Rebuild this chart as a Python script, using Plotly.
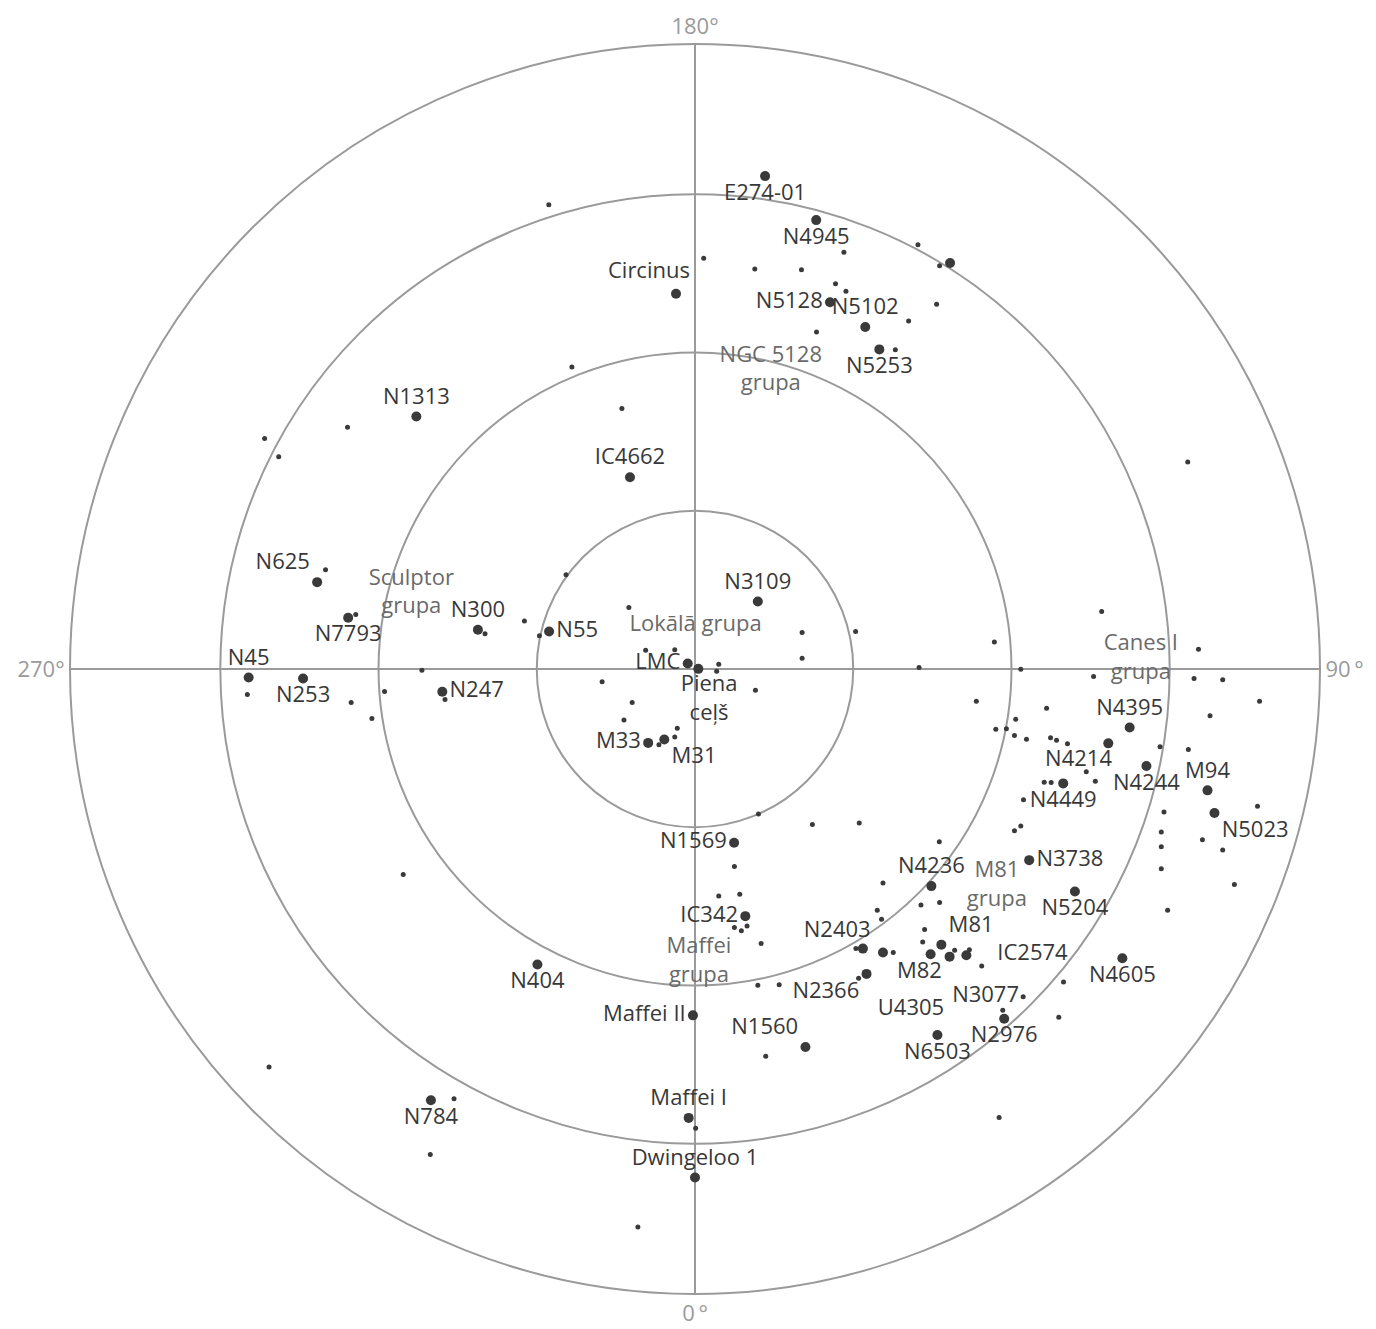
import numpy as np
import plotly.graph_objects as go

# ---------------- data (planar coordinates in Mpc, Milky Way at origin) ----------------
# named galaxies (large markers)
named = ["E274-01", "N4945", "Circinus", "N5128", "N5102", "N5253", "N1313", "IC4662",
         "N625", "N7793", "N300", "N55", "N45", "N253", "N247", "N3109", "LMC",
         "Piena<br>ceļš", "M33", "M31", "N1569", "IC342", "N404", "Maffei II", "N1560",
         "Maffei I", "Dwingeloo 1", "N784", "N2403", "N2366", "N4236", "M81", "M82",
         "IC2574", "N2976", "N6503", "N5204", "N4605", "N3738", "N4449", "N4214",
         "N4395", "N4244", "M94", "N5023"]
named_x = [0.443, 0.766, -0.120, 0.853, 1.076, 1.165, -1.761, -0.411,
           -2.388, -2.192, -1.372, -0.922, -2.821, -2.477, -1.597, 0.397, -0.046,
           0.021, -0.296, -0.194, 0.247, 0.318, -0.996, -0.013, 0.698,
           -0.040, 0.000, -1.669, 1.061, 1.084, 1.494, 1.557, 1.489,
           1.715, 1.954, 1.532, 2.401, 2.701, 2.112, 2.327, 2.612,
           2.747, 2.853, 3.239, 3.283]
named_y = [3.115, 2.837, 2.372, 2.318, 2.161, 2.020, 1.596, 1.212,
           0.549, 0.324, 0.248, 0.237, -0.054, -0.060, -0.144, 0.427, 0.035,
           0.001, -0.467, -0.446, -1.098, -1.562, -1.868, -2.189, -2.389,
           -2.837, -3.214, -2.725, -1.767, -1.927, -1.372, -1.742, -1.803,
           -1.809, -2.210, -2.313, -1.406, -1.828, -1.208, -0.723, -0.470,
           -0.370, -0.613, -0.767, -0.910]

# other large galaxies without a label
big_x = [1.612, 1.188, 1.609]
big_y = [2.566, -1.792, -1.818]

# named dwarf galaxy (small marker)
dwarf_named = ["N3077"]
dwarf_named_x = [2.074]
dwarf_named_y = [-2.071]

# unnamed dwarf galaxies (small markers)
dwarf_x = [-2.196, -2.720, -2.631, -0.924, 0.941, 0.055, 0.378, 0.673, 0.888, 0.954,
           1.350, 0.768, 1.266, -0.778, -0.462, 1.409, 1.546, 1.527, -2.335, -2.144,
           -2.829, -2.173, -2.042, -1.962, -1.726, -1.580, -1.844, -0.815, -1.327, -1.078,
           -0.983, -0.418, 0.677, 1.015, 0.677, -0.312, -0.128, 0.150, 0.137, -0.587,
           0.382, -0.397, -0.449, -0.112, -0.128, -0.228, 0.401, 0.742, 1.038, 0.249,
           1.188, 1.416, 3.114, 2.570, 1.892, 3.182, 2.059, 2.519, 3.154, 3.335,
           1.778, 3.568, 2.222, 3.255, 2.027, 1.901, 1.968, 2.019, 2.095, 2.247,
           2.285, 2.354, 2.939, 3.118, 2.473, 2.530, 2.207, 2.251, 2.076, 3.555,
           2.964, 2.947, 3.207, 3.335, 2.947, 2.947, 3.409, 2.059, 2.019, 1.544,
           2.987, 1.428, 1.546, 1.152, 1.179, 1.451, 1.439, 1.017, 1.253, 1.641,
           1.734, 1.812, 1.034, 1.945, 2.299, 2.329, 1.922, 0.150, 0.283, 0.249,
           0.293, 0.329, 0.418, 0.397, 0.532, 0.447, 0.004, -0.361, -2.692, -1.523,
           -1.673]
dwarf_y = [1.528, 1.457, 1.341, 2.934, 2.634, 2.596, 2.528, 2.524, 2.435, 2.387,
           2.199, 2.130, 2.018, 1.908, 1.647, 2.682, 2.549, 2.305, 0.628, 0.345,
           -0.161, -0.212, -0.313, -0.142, -0.008, -0.193, -1.299, 0.596, 0.223, 0.303,
           0.210, 0.389, 0.231, 0.237, 0.068, 0.119, 0.122, 0.030, -0.014, -0.081,
           -0.134, -0.212, -0.322, -0.375, -0.429, -0.478, -0.916, -0.982, -0.973, -1.248,
           -1.353, 0.009, 1.309, 0.364, 0.170, 0.125, -0.001, -0.047, -0.060, -0.068,
           -0.204, -0.204, -0.248, -0.296, -0.318, -0.381, -0.377, -0.421, -0.444, -0.434,
           -0.451, -0.472, -0.491, -0.508, -0.649, -0.710, -0.716, -0.718, -0.826, -0.868,
           -0.904, -1.030, -1.079, -1.144, -1.123, -1.263, -1.362, -0.992, -1.022, -1.092,
           -1.524, -1.492, -1.476, -1.524, -1.581, -1.647, -1.725, -1.767, -1.792, -1.777,
           -1.775, -1.877, -1.954, -2.157, -2.201, -1.978, -2.834, -1.435, -1.423, -1.634,
           -1.655, -1.625, -1.735, -1.999, -1.995, -2.448, -2.902, -3.527, -2.516, -2.716,
           -3.068]

# group names and their centres
groups = ["Lokālā grupa", "NGC 5128<br>grupa", "Sculptor<br>grupa", "Canes I<br>grupa",
          "M81<br>grupa", "Maffei<br>grupa"]
group_x = [0.004, 0.479, -1.793, 2.818, 1.908, 0.025]
group_y = [0.273, 1.887, 0.478, 0.065, -1.372, -1.853]

# galaxy names set apart from their markers (crowded areas)
free_labels = ["U4305", "Circinus", "Piena<br>ceļš", "N2403", "IC2574", "N4214", "M82"]
free_x = [1.365, -0.291, 0.089, 0.899, 2.133, 2.424, 1.418]
free_y = [-2.149, 2.509, -0.197, -1.661, -1.807, -0.579, -1.915]

circle_ticks = [1, 2, 3]
angle_ticks = [0, 90, 180, 270]
angle_text = ["0\u2009°", "90\u2009°", "180°", "270°"]

# ---------------- label placement next to the markers ----------------
label_pos = {
    "E274-01": "bottom center", "N4945": "bottom center",
    "N5128": "middle left", "N5102": "top center", "N5253": "bottom center",
    "N1313": "top center", "IC4662": "top center", "N625": "top left",
    "N7793": "bottom center", "N300": "top center", "N55": "middle right",
    "N45": "top center", "N253": "bottom center", "N247": "middle right",
    "N3109": "top center", "LMC": "middle left",
    "M33": "middle left", "M31": "bottom right", "N1569": "middle left",
    "IC342": "middle left", "N404": "bottom center", "Maffei II": "middle left",
    "N1560": "top left", "Maffei I": "top center", "Dwingeloo 1": "top center",
    "N784": "bottom center", "N2366": "bottom left",
    "N4236": "top center", "M81": "top right",
    "N2976": "bottom center", "N6503": "bottom center",
    "N5204": "bottom center", "N4605": "bottom center", "N3738": "middle right",
    "N4449": "bottom center",  "N4395": "top center",
    "N4244": "bottom center", "M94": "top center", "N5023": "bottom right",
    "N3077": "middle left",
}


def to_polar(x, y):
    x = np.asarray(x, dtype=float)
    y = np.asarray(y, dtype=float)
    r = np.hypot(x, y)
    th = np.degrees(np.arctan2(x, -y)) % 360
    return r, th


DOT = "#3a3a3a"
LABEL = "#383838"
GROUP = "#6a6a6a"
GRID = "#9a9a9a"
FONT = "Open Sans"
LABEL_FONT = dict(family=FONT, size=22, color=LABEL)

fig = go.Figure()

r, th = to_polar(dwarf_x, dwarf_y)
fig.add_trace(go.Scatterpolar(r=r, theta=th, mode="markers",
                              marker=dict(size=5, color=DOT), hoverinfo="skip"))

r, th = to_polar(big_x, big_y)
fig.add_trace(go.Scatterpolar(r=r, theta=th, mode="markers",
                              marker=dict(size=10, color=DOT), hoverinfo="skip"))

r, th = to_polar(dwarf_named_x, dwarf_named_y)
fig.add_trace(go.Scatterpolar(r=r, theta=th, mode="markers+text",
                              text=[n if n in label_pos else "" for n in dwarf_named],
                              textposition=[label_pos.get(n, "middle center") for n in dwarf_named],
                              textfont=LABEL_FONT,
                              marker=dict(size=5, color=DOT), hoverinfo="skip"))

r, th = to_polar(named_x, named_y)
fig.add_trace(go.Scatterpolar(r=r, theta=th, mode="markers+text",
                              text=[n if n in label_pos else "" for n in named],
                              textposition=[label_pos.get(n, "middle center") for n in named],
                              textfont=LABEL_FONT,
                              marker=dict(size=10, color=DOT), hoverinfo="skip"))

r, th = to_polar(free_x, free_y)
fig.add_trace(go.Scatterpolar(r=r, theta=th, mode="text", text=free_labels,
                              textposition="middle center", textfont=LABEL_FONT,
                              hoverinfo="skip"))

r, th = to_polar(group_x, group_y)
fig.add_trace(go.Scatterpolar(r=r, theta=th, mode="text", text=groups,
                              textposition="middle center",
                              textfont=dict(family=FONT, size=22, color=GROUP),
                              hoverinfo="skip"))

fig.update_layout(
    width=1376, height=1329,
    margin=dict(l=70, r=56, t=44, b=35),
    paper_bgcolor="white",
    showlegend=False,
    font=dict(family=FONT),
    polar=dict(
        bgcolor="white",
        radialaxis=dict(range=[0, 3.95], tickvals=circle_ticks, showticklabels=False,
                        ticks="", showline=False, gridcolor=GRID, gridwidth=2),
        angularaxis=dict(rotation=-90, direction="counterclockwise",
                         tickvals=angle_ticks, ticktext=angle_text, ticks="",
                         tickfont=dict(family=FONT, size=22, color=GRID),
                         showline=True, linecolor=GRID, linewidth=2,
                         gridcolor=GRID, gridwidth=2),
    ),
)

fig.write_html("out.html")
